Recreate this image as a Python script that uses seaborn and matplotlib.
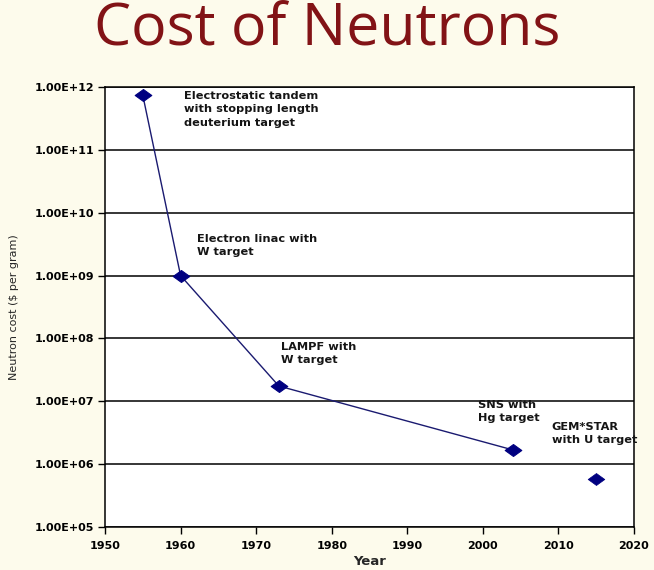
import matplotlib
matplotlib.use("Agg")
import matplotlib.pyplot as plt
import seaborn as sns
import pandas as pd
from matplotlib.path import Path

years = [1955, 1960, 1973, 2004, 2015]
costs = [7.4e11, 1.0e9, 1.75e7, 1.68e6, 5.8e5]
labels = ["Electrostatic tandem\nwith stopping length\ndeuterium target",
          "Electron linac with\nW target",
          "LAMPF with\nW target",
          "SNS with\nHg target",
          "GEM*STAR\nwith U target"]
label_pos = [(1960.4, 8.6e11), (1962.2, 4.6e9), (1973.3, 8.7e7), (1999.4, 1.05e7), (2009.1, 4.7e6)]
connected = [True, True, True, True, False]
y_ticks = [1e5, 1e6, 1e7, 1e8, 1e9, 1e10, 1e11, 1e12]
y_tick_labels = ["1.00E+05", "1.00E+06", "1.00E+07", "1.00E+08",
                 "1.00E+09", "1.00E+10", "1.00E+11", "1.00E+12"]
x_ticks = [1950, 1960, 1970, 1980, 1990, 2000, 2010, 2020]

df = pd.DataFrame({"Year": years, "Cost": costs, "conn": connected})

sns.set_theme(style="white")
plt.rcParams['font.family'] = ['DejaVu Sans']

bg = "#FDFBEC"
fig = plt.figure(figsize=(6.54, 5.70), dpi=100, facecolor=bg)
ax = fig.add_axes([105/654, 1-527/570, (634-105)/654, (527-87)/570])
ax.set_facecolor("white")

navy = "#000080"
diamond = Path([(-1, 0), (0, 0.72), (1, 0), (0, -0.72), (-1, 0)],
               [Path.MOVETO, Path.LINETO, Path.LINETO, Path.LINETO, Path.CLOSEPOLY])
sns.lineplot(data=df[df.conn], x="Year", y="Cost", ax=ax, color="#1a1a70", lw=1.0,
             marker=diamond, markersize=12, markeredgecolor=navy, markerfacecolor=navy)
sns.scatterplot(data=df[~df.conn], x="Year", y="Cost", ax=ax, color=navy,
                marker=diamond, s=144, edgecolor=navy, linewidth=0.5)

ax.set_yscale("log")
ax.set_ylim(1e5, 1e12)
ax.set_xlim(1950, 2020)
ax.set_yticks(y_ticks)
ax.set_yticklabels(y_tick_labels)
ax.minorticks_off()
ax.set_xticks(x_ticks)
ax.set_xticklabels([str(x) for x in x_ticks])
ax.yaxis.grid(True, color="black", lw=1.1)
ax.xaxis.grid(False)
for s in ax.spines.values():
    s.set_color("black")
    s.set_linewidth(1.1)
ax.tick_params(axis="both", which="major", direction="out", length=5, width=1,
               color="black", labelsize=8, labelcolor="black", bottom=True, left=True)
for t in ax.get_xticklabels() + ax.get_yticklabels():
    t.set_fontweight("bold")
ax.tick_params(axis="x", pad=5)
ax.tick_params(axis="y", pad=3)

ax.set_xlabel("Year", fontsize=9.5, fontweight="bold", labelpad=3)
ax.set_ylabel("Neutron cost ($ per gram)", fontsize=8)
ax.yaxis.set_label_coords(-0.163, 0.5)

for (lx, ly), txt in zip(label_pos, labels):
    ax.text(lx, ly, txt, fontsize=8.2, fontweight="bold", va="top", ha="left",
            linespacing=1.4, color="#151515")

fig.text(0.5, 1-45/570, "Cost of Neutrons", ha="center", va="baseline",
         fontsize=42.5, color="#821316", family=["Open Sans", "DejaVu Sans"])

fig.savefig("out.png", dpi=100, facecolor=bg)
